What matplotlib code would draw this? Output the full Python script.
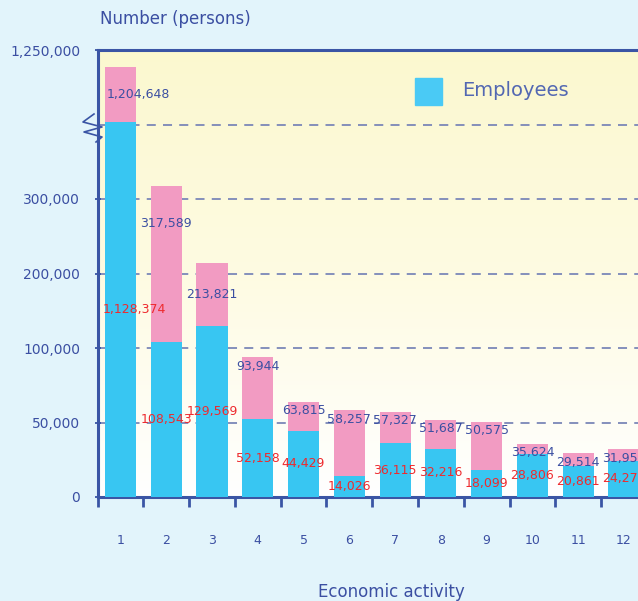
import numpy as np
import matplotlib
matplotlib.use("Agg")
import matplotlib.pyplot as plt
from matplotlib.colors import LinearSegmentedColormap

# data
activity = [str(i) for i in range(1, 13)]
total = [1204648, 317589, 213821, 93944, 63815, 58257, 57327, 51687, 50575, 35624, 29514, 31951]
employees = [1128374, 108543, 129569, 52158, 44429, 14026, 36115, 32216, 18099, 28806, 20861, 24274]
ytick_vals = [0, 50000, 100000, 200000, 300000, 1250000]
ytick_labels = ["0", "50,000", "100,000", "200,000", "300,000", "1,250,000"]

# broken, piecewise axis
knot_vals = [0, 50000, 100000, 200000, 300000, 350000, 1125000, 1200000, 1250000]
knot_pos = [0, 1, 2, 3, 4, 4.5, 5, 5.75, 6]
break_val = 1125000


def fwd(v):
    return np.interp(v, knot_vals, knot_pos)


def inv(p):
    return np.interp(p, knot_pos, knot_vals)


DARK = "#3b4fa2"
BLUE = "#38c6f2"
PINK = "#f29bc2"
RED = "#ee2a2e"

fig = plt.figure(figsize=(6.38, 6.01), dpi=100, facecolor="#e2f4fb")
W, H = 638, 601
ax = fig.add_axes([97.6 / W, 104 / H, 595 / W, 447 / H])
ax.set_yscale("function", functions=(fwd, inv))
ax.set_ylim(0, 1250000)
ax.set_xlim(0.5, 13.5)

# gradient background
grad = np.linspace(0, 1, 256).reshape(-1, 1)
cmap = LinearSegmentedColormap.from_list("bg", ["#ffffff", "#fefbe2", "#fbf8cf"])
ax.imshow(grad, extent=[0, 1, 0, 1], transform=ax.transAxes, cmap=cmap,
          aspect="auto", origin="lower", zorder=0)

x = np.arange(1, len(activity) + 1)
bw = 0.68
for yv in [50000, 100000, 200000, 300000, break_val]:
    ax.axhline(yv, color="#7b87b8", lw=1.3, ls=(0, (5, 4)), zorder=1)

ax.bar(x, total, width=bw, color=PINK, zorder=2)
ax.bar(x, employees, width=bw, color=BLUE, zorder=3)

px_per_unit = 447 / 6
for i, (xi, t, e) in enumerate(zip(x, total, employees)):
    h = (fwd(t) - fwd(e)) * px_per_unit
    off = min(h / 2, 38) if t > 100000 else 9
    # first bar is too narrow for its labels, so they start at the bar's left edge
    lx, ha = (xi - bw / 2, "left") if i == 0 else (xi, "center")
    ax.annotate(f"{t:,}", (lx, t), xytext=(2 if i == 0 else 0, -off),
                textcoords="offset pixels", ha=ha, va="center",
                fontsize=9, color=DARK, zorder=5)
    ax.annotate(f"{e:,}", (lx, inv(fwd(e) / 2)), xytext=(-2 if i == 0 else 0, 0),
                textcoords="offset pixels", ha=ha, va="center",
                fontsize=9, color=RED, zorder=5)

# axes styling
for s in ["left", "top", "bottom"]:
    ax.spines[s].set_color("#3a55a5")
    ax.spines[s].set_linewidth(2.2)
ax.spines["right"].set_visible(False)

ax.set_yticks(ytick_vals)
ax.set_yticklabels(ytick_labels)
ax.tick_params(axis="y", direction="inout", length=5, width=1.3, color="#3a55a5",
               labelsize=10, labelcolor=DARK, pad=10)
ax.set_xticks(np.arange(0.5, 13.5, 1))
ax.set_xticklabels([])
ax.set_xticks(x, minor=True)
ax.set_xticklabels(activity, minor=True)
ax.tick_params(axis="x", which="major", direction="out", length=7, width=2, color="#3a55a5")
ax.tick_params(axis="x", which="minor", length=0, labelsize=9, labelcolor=DARK, pad=27)

# legend
fig.patches.append(plt.Rectangle((415 / W, 1 - 105 / H), 27 / W, 27 / H,
                                 transform=fig.transFigure, color="#4acaf5", zorder=6))
fig.text(462 / W, 1 - 91 / H, "Employees", fontsize=14, color="#5368b2",
         va="center", ha="left")

# axis titles
fig.text(100 / W, 1 - 19 / H, "Number (persons)", fontsize=12, color=DARK,
         va="center", ha="left")
fig.text(391 / W, 1 - 592 / H, "Economic activity", fontsize=12, color=DARK,
         va="center", ha="center")

# break symbol
zx = np.array([94, 83, 102, 84, 102, 96])
zy = np.array([114, 122, 127, 132, 137, 142])
fig.add_artist(plt.Line2D(zx / W, 1 - zy / H, transform=fig.transFigure,
                          color="#3a55a5", lw=1.2))

fig.savefig("out.png", dpi=100, facecolor=fig.get_facecolor())
